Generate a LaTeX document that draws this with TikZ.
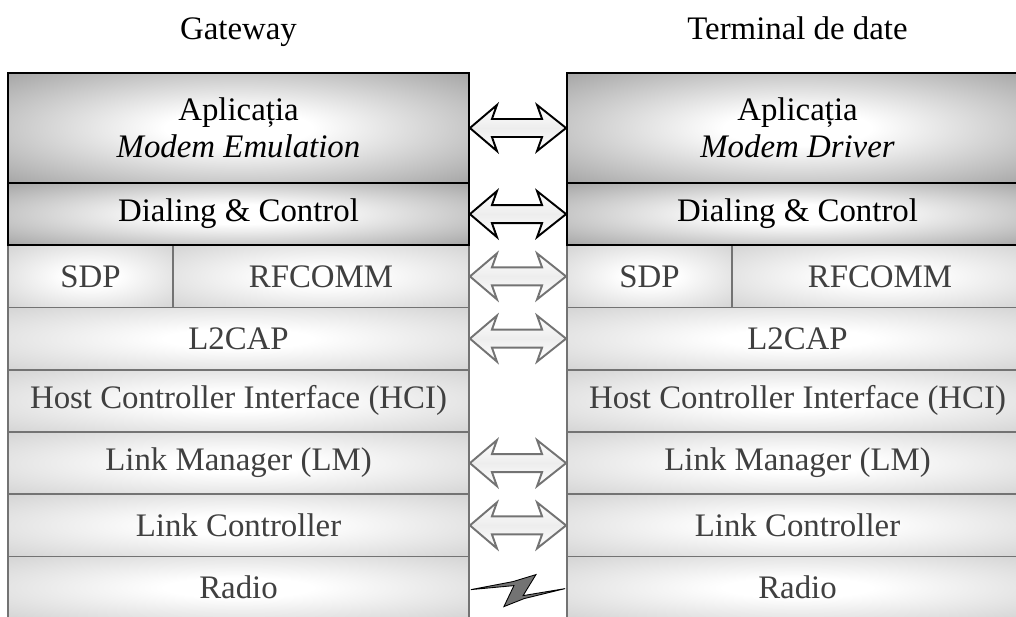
\documentclass[tikz,border=0pt]{standalone}
\usepackage{fontspec}
\setmainfont{Liberation Serif}
\usetikzlibrary{calc}

\definecolor{layerdark}{gray}{0.5}
\definecolor{layerlight}{gray}{0.76}
\definecolor{layerline}{gray}{0.45}
\definecolor{layertext}{gray}{0.25}
\definecolor{boltgray}{gray}{0.45}

\pgfdeclareradialshading{glowdark}{\pgfpoint{0bp}{0bp}}{color(0bp)=(white); color(8bp)=(white); color(47bp)=(layerdark); color(100bp)=(layerdark)}
\pgfdeclareradialshading{glowlight}{\pgfpoint{0bp}{0bp}}{color(0bp)=(white); color(8bp)=(white); color(47bp)=(layerlight); color(100bp)=(layerlight)}

% double block arrow from the east side of #2 to the west side of #3
\newcommand{\blockarrow}[3]{%
  \draw[#1] (#2.east) -- ++(27,-23) -- ++(-5,14) -- ($(#3.west)+(-24,-9)$)
    -- ++(-5,-14) -- (#3.west) -- ++(-29,23) -- ++(5,-14)
    -- ($(#2.east)+(22,9)$) -- ++(5,14) -- cycle;}

\begin{document}
\begin{tikzpicture}[
    x=0.02cm, y=-0.02cm,
    font=\fontsize{18.7}{21}\selectfont,
    layer/.style={rectangle, draw=layerline, line width=1.1pt, shade, shading=glowlight,
        text=layertext, minimum width=9.22cm, minimum height=1.245cm, inner sep=0pt},
    toplayer/.style={layer, draw=black, shading=glowdark, text=black, align=center},
    sdpbox/.style={layer, minimum width=3.3cm},
    rfcbox/.style={layer, minimum width=5.92cm},
    link/.style={draw=layerline, line width=1.1pt, line join=miter,
        top color=white, bottom color=white, middle color=gray!14},
    toplink/.style={link, draw=black},
    bolt/.style={draw=black, line width=0.5pt, fill=boltgray}
]
\useasboundingbox (0,0) rectangle (1016,616);
\clip (0,0) rectangle (1016,616);

\node[anchor=base] (gwtitle) at (238.5,39) {Gateway};
\node[anchor=base] (tdtitle) at (797.5,39) {Terminal de date};

% Gateway
\node[sdpbox] (gwsdp) at (90.5,276.4) {SDP};
\node[rfcbox] (gwrfc) at (321,276.4) {RFCOMM};
\node[layer] (gwl2) at (238.5,338.6) {L2CAP};
\node[layer] (gwhci) at (238.5,400.9) {Host Controller Interface (HCI)};
\node[layer] (gwlm) at (238.5,463.1) {Link Manager (LM)};
\node[layer] (gwlc) at (238.5,525.4) {Link Controller};
\node[layer] (gwrad) at (238.5,587.6) {Radio};
\node[toplayer] (gwdial) at (238.5,214.1) {Dialing \& Control};
\node[toplayer, minimum height=2.2cm] (gwapp) at (238.5,128) {Aplicația\\\textit{Modem Emulation}};

% Terminal de date
\node[sdpbox] (tdsdp) at (649.5,276.4) {SDP};
\node[rfcbox] (tdrfc) at (880,276.4) {RFCOMM};
\node[layer] (tdl2) at (797.5,338.6) {L2CAP};
\node[layer] (tdhci) at (797.5,400.9) {Host Controller Interface (HCI)};
\node[layer] (tdlm) at (797.5,463.1) {Link Manager (LM)};
\node[layer] (tdlc) at (797.5,525.4) {Link Controller};
\node[layer] (tdrad) at (797.5,587.6) {Radio};
\node[toplayer] (tddial) at (797.5,214.1) {Dialing \& Control};
\node[toplayer, minimum height=2.2cm] (tdapp) at (797.5,128) {Aplicația\\\textit{Modem Driver}};

% peer links
\blockarrow{toplink}{gwapp}{tdapp}
\blockarrow{toplink}{gwdial}{tddial}
\blockarrow{link}{gwrfc}{tdsdp}
\blockarrow{link}{gwl2}{tdl2}
\blockarrow{link}{gwlm}{tdlm}
\blockarrow{link}{gwlc}{tdlc}

% radio link
\draw[bolt] ($(gwrad.east)+(1,2)$) -- ++(42,-8) -- ++(23,-7) -- ($(tdrad.west)+(-43,8)$)
    -- ($(tdrad.west)+(-1,1)$) -- ($(tdrad.west)+(-42,11)$) -- ($(gwrad.east)+(34,19)$)
    -- ($(gwrad.east)+(44,-2)$) -- cycle;
\end{tikzpicture}
\end{document}
